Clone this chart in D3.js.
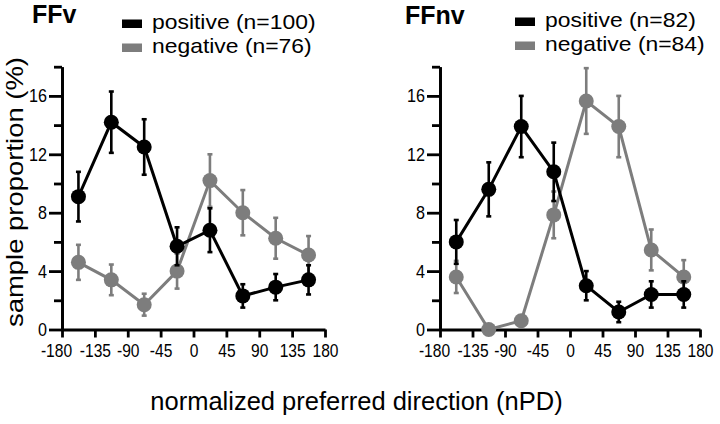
<!DOCTYPE html>
<html>
<head>
<meta charset="utf-8">
<script src="https://cdn.jsdelivr.net/npm/d3@7"></script>
<style>
  body { margin: 0; background: #fff; }
  svg { display: block; font-family: "Liberation Sans", Arial, sans-serif; }
</style>
</head>
<body>
<svg></svg>
<script>
const width = 720;
const height = 424;

// data
const directions = [-157.5, -112.5, -67.5, -22.5, 22.5, 67.5, 112.5, 157.5];
const xTicks = [-180, -135, -90, -45, 0, 45, 90, 135, 180];
const yMajorTicks = [0, 4, 8, 12, 16];
const yMinorTicks = [2, 6, 10, 14, 18];

const panelTitles = ["FFv", "FFnv"];
const ffvLegend = ["positive (n=100)", "negative (n=76)"];
const ffnvLegend = ["positive (n=82)", "negative (n=84)"];

const ffvPositive = [9.1, 14.2, 12.5, 5.7, 6.8, 2.3, 2.9, 3.4];
const ffvPositiveErr = [1.7, 2.1, 1.9, 1.3, 1.5, 0.8, 0.9, 1.0];
const ffvNegative = [4.6, 3.4, 1.7, 4.0, 10.2, 8.0, 6.25, 5.1];
const ffvNegativeErr = [1.2, 1.05, 0.75, 1.2, 1.8, 1.55, 1.4, 1.3];

const ffnvPositive = [6.0, 9.6, 13.9, 10.8, 3.0, 1.2, 2.4, 2.4];
const ffnvPositiveErr = [1.5, 1.85, 2.1, 2.0, 1.0, 0.7, 0.9, 0.9];
const ffnvNegative = [3.6, 0, 0.6, 7.85, 15.65, 13.9, 5.45, 3.6];
const ffnvNegativeErr = [1.1, 0, 0, 1.6, 2.25, 2.1, 1.4, 1.15];

const posColor = "#000";
const negColor = "#7d7d7d";

const y0 = 329.5;
const yTop = 66.7;

let svg = d3.select("svg")
  .attr("width", width)
  .attr("height", height);

// squeeze / stretch a text to k times its natural width
function condense(sel, k) {
  sel.each(function() {
    const w = this.getComputedTextLength();
    d3.select(this).attr("textLength", w * k).attr("lengthAdjust", "spacingAndGlyphs");
  });
}

function drawSeries(g, scX, scY, values, errs, color) {
  const pts = directions.map((d, i) => ({x: d, y: values[i], e: errs[i]}));
  const cap = 2.5;

  // error bars
  const eb = g.append("g").attr("stroke", color).attr("stroke-width", 2.6);
  eb.selectAll(".ebar").data(pts.filter(d => d.e > 0)).enter()
    .append("line")
    .attr("x1", d => scX(d.x)).attr("x2", d => scX(d.x))
    .attr("y1", d => scY(d.y - d.e)).attr("y2", d => scY(d.y + d.e));
  eb.selectAll(".ecap").data(pts.filter(d => d.e > 0).flatMap(d => [d.y - d.e, d.y + d.e].map(v => ({x: d.x, v})))).enter()
    .append("line")
    .attr("x1", d => scX(d.x) - cap).attr("x2", d => scX(d.x) + cap)
    .attr("y1", d => scY(d.v)).attr("y2", d => scY(d.v));

  // connecting line
  g.append("path")
    .datum(pts)
    .attr("fill", "none")
    .attr("stroke", color)
    .attr("stroke-width", 3)
    .attr("d", d3.line().x(d => scX(d.x)).y(d => scY(d.y)));

  // markers
  g.selectAll(".dot").data(pts).enter()
    .append("circle")
    .attr("r", 7.5)
    .attr("cx", d => scX(d.x))
    .attr("cy", d => scY(d.y))
    .attr("fill", color);
}

function drawPanel(p) {
  const g = svg.append("g");

  let scaleX = d3.scaleLinear().domain([-180, 180]).range([p.x0, p.x1]);
  let scaleY = d3.scaleLinear().domain([0, 18]).range([y0, yTop]);

  // x axis (plain hyphen like the original)
  let gx = g.append("g")
    .attr("transform", `translate(0, ${y0})`)
    .call(d3.axisBottom(scaleX).tickValues(xTicks).tickSize(8).tickSizeOuter(0).tickPadding(6)
      .tickFormat(d => String(d)));
  gx.selectAll("text").attr("font-size", "19px").attr("font-family", null).attr("fill", "#000");
  condense(gx.selectAll("text"), 0.82);
  gx.selectAll(".tick").filter(d => d === -180).select("text").attr("dx", -6);

  // y axis, minor then major ticks
  let gyMinor = g.append("g")
    .attr("transform", `translate(${p.x0}, 0)`)
    .call(d3.axisLeft(scaleY).tickValues(yMinorTicks).tickSize(8).tickSizeOuter(0).tickFormat(""));
  let gy = g.append("g")
    .attr("transform", `translate(${p.x0}, 0)`)
    .call(d3.axisLeft(scaleY).tickValues(yMajorTicks).tickSize(13).tickSizeOuter(0).tickPadding(2));
  gy.selectAll("text").attr("font-size", "19px").attr("font-family", null).attr("fill", "#000");
  condense(gy.selectAll("text"), 0.85);

  [gx, gy, gyMinor].forEach(a => {
    a.selectAll("path, line").attr("stroke", "#000").attr("stroke-width", 2.8);
  });

  drawSeries(g, scaleX, scaleY, p.neg, p.negErr, negColor);
  drawSeries(g, scaleX, scaleY, p.pos, p.posErr, posColor);

  // title
  g.append("text")
    .attr("x", p.titleX).attr("y", p.titleY)
    .attr("font-size", "25px").attr("font-weight", "bold")
    .text(p.title);

  // legend
  const lg = g.append("g");
  [posColor, negColor].forEach((c, i) => {
    lg.append("rect")
      .attr("x", p.legX).attr("y", p.legY[i] - 9.5)
      .attr("width", 20).attr("height", 8.5)
      .attr("fill", c);
    lg.append("text")
      .attr("x", p.legX + 30).attr("y", p.legY[i])
      .attr("font-size", "21px")
      .text(p.legend[i])
      .call(condense, 1.09);
  });
}

const panels = [
  {x0: 62, x1: 325, title: panelTitles[0], titleX: 32, titleY: 23, legend: ffvLegend,
   legX: 122, legY: [29, 53], pos: ffvPositive, posErr: ffvPositiveErr, neg: ffvNegative, negErr: ffvNegativeErr},
  {x0: 440, x1: 700, title: panelTitles[1], titleX: 405, titleY: 24, legend: ffnvLegend,
   legX: 515, legY: [27, 51], pos: ffnvPositive, posErr: ffnvPositiveErr, neg: ffnvNegative, negErr: ffnvNegativeErr}
];

panels.forEach(drawPanel);

// axis titles
svg.append("text")
  .attr("transform", `translate(22.5, 192) rotate(-90)`)
  .attr("text-anchor", "middle")
  .attr("font-size", "24.5px")
  .attr("textLength", 270)
  .attr("lengthAdjust", "spacingAndGlyphs")
  .text("sample proportion (%)");

svg.append("text")
  .attr("x", 356.5).attr("y", 410)
  .attr("text-anchor", "middle")
  .attr("font-size", "25.5px")
  .text("normalized preferred direction (nPD)");
</script>
</body>
</html>
